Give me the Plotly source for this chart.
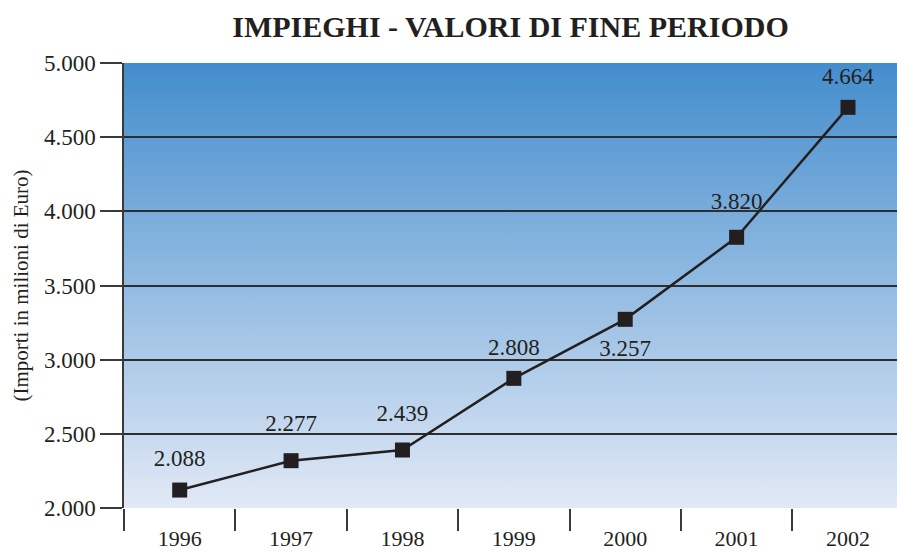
import base64
import plotly.graph_objects as go

# Dati
anni = ['1996', '1997', '1998', '1999', '2000', '2001', '2002']
impieghi = [2121, 2319, 2391, 2874, 3272, 3825, 4701]   # posizione dei punti nel grafico
etichette = ['2.088', '2.277', '2.439', '2.808', '3.257', '3.820', '4.664']
y_ticks = [2000, 2500, 3000, 3500, 4000, 4500, 5000]
y_ticktext = ['2.000', '2.500', '3.000', '3.500', '4.000', '4.500', '5.000']

# posizione delle etichette: sopra/sotto e distanza (via marker invisibile)
pos_etichette = ['top center'] * 4 + ['bottom center'] + ['top center'] * 2
dist_etichette = [28, 36, 36, 27, 30, 34, 27]

FONT = 'Liberation Serif'
INK = '#231f20'

# sfondo sfumato dell'area del grafico
svg = ('<svg xmlns="http://www.w3.org/2000/svg" width="100" height="100" preserveAspectRatio="none">'
       '<defs><linearGradient id="g" x1="0" y1="0" x2="0" y2="1">'
       '<stop offset="0" stop-color="#438dcd"/>'
       '<stop offset="1" stop-color="#e2e9f6"/>'
       '</linearGradient></defs>'
       '<rect width="100" height="100" fill="url(#g)"/></svg>')
bg_src = 'data:image/svg+xml;base64,' + base64.b64encode(svg.encode()).decode()

fig = go.Figure()
fig.add_trace(go.Scatter(
    x=anni, y=impieghi, mode='lines+markers',
    line=dict(color=INK, width=2.5),
    marker=dict(symbol='square', size=15, color=INK),
    hoverinfo='skip', showlegend=False))

# etichette dei valori
fig.add_trace(go.Scatter(
    x=anni, y=impieghi, mode='markers+text',
    text=etichette, textposition=pos_etichette,
    textfont=dict(family=FONT, size=23, color=INK),
    marker=dict(size=dist_etichette, opacity=0),
    hoverinfo='skip', showlegend=False))

fig.add_layout_image(dict(source=bg_src, xref='paper', yref='paper',
                          x=0, y=1, sizex=1, sizey=1, sizing='stretch',
                          xanchor='left', yanchor='top', layer='below'))

fig.update_layout(
    width=897, height=552,
    margin=dict(l=124, r=0, t=63, b=44),
    paper_bgcolor='white', plot_bgcolor='rgba(0,0,0,0)',
    title=dict(text='<b>IMPIEGHI - VALORI DI FINE PERIODO</b>',
               x=0.5, xref='paper', y=0.952, yanchor='middle',
               font=dict(family=FONT, size=30, color=INK)),
    font=dict(family=FONT, color=INK),
    xaxis=dict(type='category', range=[-0.5, 6.44], automargin=False,
               tickson='boundaries', ticks='outside', ticklen=22,
               tickwidth=1.5, tickcolor='#3a3a3a', ticklabelstandoff=15,
               showgrid=False, showline=False, zeroline=False,
               tickfont=dict(family=FONT, size=22, color=INK)),
    yaxis=dict(range=[2000, 5000], tickvals=y_ticks, ticktext=y_ticktext,
               automargin=False,
               ticks='outside', ticklen=22, tickwidth=1.5, tickcolor='#3a3a3a',
               showgrid=True, gridcolor='#2e2e2e', gridwidth=1.5,
               showline=True, linecolor='#3a3a3a', linewidth=1.5,
               zeroline=False,
               tickfont=dict(family=FONT, size=23, color=INK),
               title=dict(text='(Importi in milioni di Euro)', standoff=10,
                          font=dict(family=FONT, size=21, color=INK))),
)

fig.write_html('out.html', config={'responsive': False, 'displayModeBar': False},
               post_script="document.body.style.margin='0';"
                           "document.body.style.overflow='hidden';")
